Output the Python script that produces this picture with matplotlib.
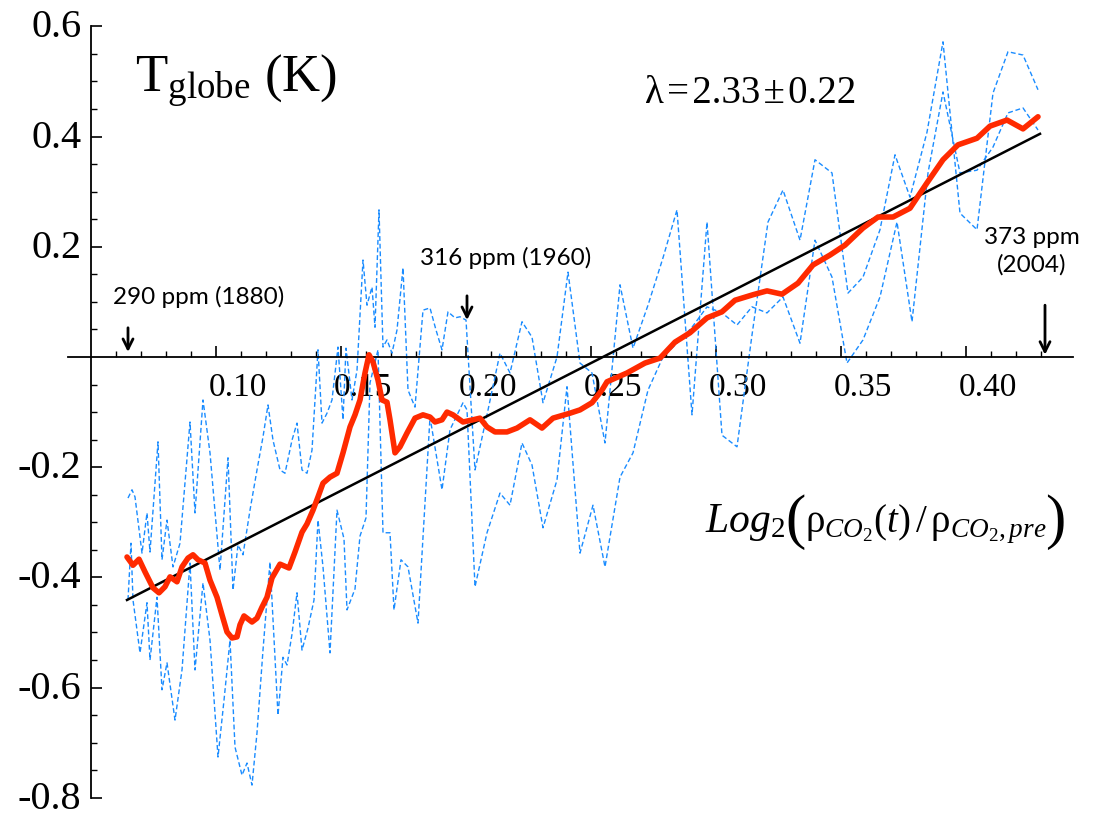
import matplotlib
matplotlib.use('Agg')
import matplotlib.pyplot as plt
from matplotlib.transforms import ScaledTranslation

plt.rcParams['mathtext.fontset'] = 'custom'
plt.rcParams['mathtext.rm'] = 'Liberation Serif'
plt.rcParams['mathtext.it'] = 'Liberation Serif:italic'
plt.rcParams['mathtext.bf'] = 'Liberation Serif:bold'

# ---------------- data ----------------
red_x = [0.0644, 0.0668, 0.0692, 0.0716, 0.0748, 0.0772, 0.0796, 0.0816, 0.0844, 0.0864,
         0.0888, 0.0908, 0.0928, 0.0956, 0.0976, 0.1004, 0.1024, 0.1044, 0.1064, 0.1084,
         0.1096, 0.1112, 0.1144, 0.1164, 0.1184, 0.1204, 0.1224, 0.1256, 0.1292, 0.1316,
         0.1344, 0.1364, 0.1388, 0.1408, 0.1428, 0.1456, 0.1484, 0.1508, 0.1536, 0.1556,
         0.1576, 0.1596, 0.1612, 0.1628, 0.1648, 0.1664, 0.1684, 0.1696, 0.1716, 0.1736,
         0.1764, 0.1796, 0.1828, 0.1856, 0.1876, 0.1904, 0.1924, 0.1948, 0.1988, 0.2028,
         0.2056, 0.2084, 0.2116, 0.2164, 0.2204, 0.2256, 0.2304, 0.2348, 0.2416, 0.2456,
         0.2504, 0.2544, 0.2564, 0.2644, 0.2716, 0.2776, 0.2836, 0.2896, 0.2964, 0.3024,
         0.3076, 0.3148, 0.3204, 0.3264, 0.3328, 0.3388, 0.3456, 0.3516, 0.3588, 0.3648,
         0.3708, 0.3776, 0.3844, 0.3908, 0.3968, 0.4044, 0.4096, 0.4164, 0.4228, 0.4288]
red_y = [-0.363, -0.378, -0.367, -0.390, -0.419, -0.428, -0.417, -0.399, -0.408, -0.381,
         -0.365, -0.359, -0.368, -0.374, -0.405, -0.436, -0.468, -0.499, -0.510, -0.508,
         -0.486, -0.470, -0.481, -0.474, -0.454, -0.436, -0.401, -0.376, -0.383, -0.354,
         -0.318, -0.303, -0.278, -0.254, -0.229, -0.218, -0.211, -0.174, -0.127, -0.105,
         -0.078, -0.029, 0.004, -0.009, -0.042, -0.078, -0.082, -0.114, -0.174, -0.163,
         -0.138, -0.111, -0.105, -0.109, -0.118, -0.114, -0.100, -0.105, -0.118, -0.114,
         -0.111, -0.127, -0.136, -0.136, -0.129, -0.114, -0.129, -0.111, -0.102, -0.096,
         -0.083, -0.060, -0.045, -0.029, -0.011, -0.002, 0.027, 0.044, 0.071, 0.082,
         0.103, 0.113, 0.120, 0.114, 0.134, 0.167, 0.185, 0.203, 0.234, 0.254,
         0.254, 0.270, 0.316, 0.358, 0.385, 0.397, 0.419, 0.430, 0.414, 0.436]

blue1_x = [0.0648, 0.0664, 0.0676, 0.0704, 0.0724, 0.0736, 0.0768, 0.0784, 0.0804, 0.0828,
           0.0856, 0.0896, 0.0916, 0.0948, 0.0976, 0.1016, 0.1048, 0.1068, 0.1088, 0.1108,
           0.1136, 0.1164, 0.1188, 0.1208, 0.1228, 0.1256, 0.1276, 0.1304, 0.1324, 0.1344,
           0.1364, 0.1384, 0.1408, 0.1424, 0.1444, 0.1464, 0.1488, 0.1508, 0.1520, 0.1544,
           0.1564, 0.1588, 0.1604, 0.1624, 0.1636, 0.1652, 0.1668, 0.1684, 0.1704, 0.1724,
           0.1748, 0.1768, 0.1796, 0.1828, 0.1856, 0.1880, 0.1904, 0.1928, 0.1956, 0.1976,
           0.2000, 0.2036, 0.2084, 0.2136, 0.2176, 0.2224, 0.2264, 0.2308, 0.2364, 0.2408,
           0.2456, 0.2504, 0.2556, 0.2616, 0.2668, 0.2728, 0.2788, 0.2844, 0.2904, 0.2964,
           0.3024, 0.3084, 0.3144, 0.3208, 0.3268, 0.3336, 0.3396, 0.3464, 0.3528, 0.3588,
           0.3656, 0.3716, 0.3776, 0.3844, 0.3908, 0.3976, 0.4044, 0.4108, 0.4168, 0.4228,
           0.4288]
blue1_y = [-0.256, -0.241, -0.254, -0.356, -0.283, -0.354, -0.154, -0.368, -0.296, -0.381,
           -0.338, -0.118, -0.283, -0.078, -0.174, -0.387, -0.183, -0.423, -0.341, -0.359,
           -0.278, -0.205, -0.145, -0.087, -0.151, -0.205, -0.211, -0.151, -0.120, -0.205,
           -0.211, -0.169, 0.013, -0.120, -0.102, -0.078, 0.018, -0.114, 0.016, -0.078,
           -0.024, 0.176, 0.094, 0.127, 0.054, 0.267, 0.018, 0.031, 0.007, 0.049,
           0.162, -0.060, -0.091, 0.085, 0.089, 0.049, 0.013, 0.082, 0.071, 0.073,
           0.067, -0.205, -0.105, 0.007, -0.029, 0.064, 0.036, -0.083, 0.000, 0.154,
           -0.011, -0.029, -0.156, 0.131, 0.016, 0.094, 0.180, 0.267, -0.105, 0.245,
           -0.142, -0.163, 0.040, 0.245, 0.303, 0.212, 0.358, 0.334, 0.116, 0.145,
           0.231, 0.367, 0.290, 0.408, 0.572, 0.261, 0.231, 0.479, 0.554, 0.548,
           0.485]

blue2_x = [0.0648, 0.0660, 0.0668, 0.0696, 0.0724, 0.0736, 0.0764, 0.0784, 0.0804, 0.0836,
           0.0864, 0.0896, 0.0916, 0.0948, 0.0976, 0.1008, 0.1032, 0.1056, 0.1076, 0.1104,
           0.1124, 0.1144, 0.1164, 0.1188, 0.1216, 0.1248, 0.1268, 0.1284, 0.1304, 0.1324,
           0.1344, 0.1368, 0.1392, 0.1408, 0.1428, 0.1456, 0.1484, 0.1512, 0.1524, 0.1556,
           0.1576, 0.1600, 0.1616, 0.1648, 0.1668, 0.1696, 0.1712, 0.1740, 0.1768, 0.1808,
           0.1832, 0.1856, 0.1904, 0.1936, 0.1988, 0.2004, 0.2036, 0.2084, 0.2136, 0.2176,
           0.2224, 0.2264, 0.2308, 0.2364, 0.2404, 0.2456, 0.2508, 0.2556, 0.2616, 0.2668,
           0.2728, 0.2788, 0.2844, 0.2904, 0.2964, 0.3024, 0.3084, 0.3144, 0.3204, 0.3268,
           0.3336, 0.3396, 0.3464, 0.3524, 0.3588, 0.3656, 0.3724, 0.3784, 0.3848, 0.3908,
           0.3976, 0.4044, 0.4108, 0.4168, 0.4228, 0.4288]
blue2_y = [-0.441, -0.338, -0.441, -0.537, -0.446, -0.550, -0.436, -0.604, -0.555, -0.659,
           -0.568, -0.374, -0.568, -0.410, -0.514, -0.726, -0.623, -0.514, -0.708, -0.759,
           -0.737, -0.777, -0.682, -0.532, -0.372, -0.650, -0.545, -0.559, -0.503, -0.428,
           -0.532, -0.492, -0.441, -0.296, -0.381, -0.537, -0.278, -0.330, -0.459, -0.421,
           -0.325, -0.292, -0.047, 0.013, -0.319, -0.319, -0.459, -0.368, -0.381, -0.483,
           -0.296, -0.109, -0.241, -0.132, -0.083, -0.096, -0.417, -0.319, -0.247, -0.269,
           -0.156, -0.196, -0.310, -0.223, -0.054, -0.356, -0.269, -0.381, -0.218, -0.174,
           -0.060, 0.000, 0.025, 0.054, 0.091, 0.080, 0.058, 0.091, 0.080, 0.109,
           0.025, 0.212, 0.145, -0.011, 0.031, 0.109, 0.245, 0.064, 0.334, 0.481,
           0.334, 0.339, 0.381, 0.443, 0.452, 0.412]

fit_x = [0.0644, 0.4296]
fit_y = [-0.441, 0.405]

x_major = [0.10, 0.15, 0.20, 0.25, 0.30, 0.35, 0.40]
x_major_labels = ['0.10', '0.15', '0.20', '0.25', '0.30', '0.35', '0.40']
y_major = [-0.8, -0.6, -0.4, -0.2, 0.2, 0.4, 0.6]
y_major_labels = ['-0.8', '-0.6', '-0.4', '-0.2', '0.2', '0.4', '0.6']

annotations = [("290 ppm (1880)", 0.0648, 0.053, 0.009),
               ("316 ppm (1960)", 0.2004, 0.111, 0.067),
               ("373 ppm\n(2004)", 0.4316, 0.094, 0.004)]

# ---------------- figure ----------------
fig = plt.figure(figsize=(10.94, 8.18), dpi=100)
ax = fig.add_axes([0, 0, 1, 1])
ax.set_xlim(0.0136, 0.4512)
ax.set_ylim(-0.8367, 0.6479)
ax.patch.set_visible(False)
for s in ['top', 'right']:
    ax.spines[s].set_visible(False)
ax.spines['left'].set_position(('data', 0.05))
ax.spines['bottom'].set_position(('data', 0.0))
ax.spines['left'].set_bounds(-0.8, 0.6)
ax.spines['bottom'].set_bounds(0.0408, 0.4428)
for s in ['left', 'bottom']:
    ax.spines[s].set_linewidth(1.3)

ax.set_xticks(x_major)
ax.set_xticklabels(x_major_labels, family='Liberation Serif', fontsize=24)
ax.set_xticks([0.06, 0.07, 0.08, 0.09, 0.11, 0.12, 0.13, 0.14, 0.16, 0.17, 0.18, 0.19,
               0.21, 0.22, 0.23, 0.24, 0.26, 0.27, 0.28, 0.29, 0.31, 0.32, 0.33, 0.34,
               0.36, 0.37, 0.38, 0.39, 0.41, 0.42, 0.43], minor=True)
ax.set_yticks(y_major)
ax.set_yticklabels(y_major_labels, family='Liberation Serif', fontsize=29)
ax.set_yticks([-0.75, -0.7, -0.65, -0.55, -0.5, -0.45, -0.35, -0.3, -0.25, -0.15, -0.1, -0.05,
               0.05, 0.1, 0.15, 0.25, 0.3, 0.35, 0.45, 0.5, 0.55], minor=True)
ax.tick_params(axis='both', which='major', direction='in', length=8, width=1.2)
ax.tick_params(axis='both', which='minor', direction='in', length=4, width=1.0)
ax.tick_params(axis='x', which='major', pad=11)
ax.tick_params(axis='y', which='major', pad=7)
for lab in ax.get_xticklabels():
    lab.set_transform(lab.get_transform() + ScaledTranslation(0.22, 0, fig.dpi_scale_trans))
for lab in ax.get_yticklabels():
    lab.set_transform(lab.get_transform() + ScaledTranslation(0, 0.03, fig.dpi_scale_trans))

# ---------------- series ----------------
ax.plot(blue1_x, blue1_y, color='#1a8cff', lw=1.0, dashes=(3.5, 2), zorder=2)
ax.plot(blue2_x, blue2_y, color='#1a8cff', lw=1.0, dashes=(3.5, 2), zorder=2)
ax.plot(fit_x, fit_y, color='black', lw=1.8, zorder=3)
ax.plot(red_x, red_y, color='#ff2a00', lw=4.0, solid_joinstyle='round',
        solid_capstyle='round', zorder=4)

# ---------------- texts ----------------
ax.text(0.0676, 0.481, r'$\mathrm{T}_{\mathrm{globe}}$ (K)', fontsize=38,
        family='Liberation Serif', va='baseline', ha='left')
ax.text(0.2716, 0.461, 'λ\u200a=\u200a2.33\u200a±\u200a0.22', fontsize=28,
        family='Liberation Serif', va='baseline', ha='left')

# axis formula, built from pieces so that the parentheses can be tall
fig.canvas.draw()
rend = fig.canvas.get_renderer()
inv = ax.transData.inverted()


def after(t, gap_px=0.0):
    bb = t.get_window_extent(renderer=rend)
    return inv.transform((bb.x1 + gap_px, bb.y0))[0]


t1 = ax.text(0.2956, -0.318, r'$Log_2$', fontsize=30, va='baseline', ha='left')
t2 = ax.text(after(t1, 0), -0.327, '(', fontsize=44, family='Liberation Serif',
             va='baseline', ha='left')
t3 = ax.text(after(t2, 0), -0.318,
             r'$\mathrm{\rho}_{CO_2}(t)\,/\,\mathrm{\rho}_{CO_2,pre}$',
             fontsize=28, va='baseline', ha='left')
t4 = ax.text(after(t3, -2), -0.327, ')', fontsize=44, family='Liberation Serif',
             va='baseline', ha='left')

ax.text(0.0588, 0.109, annotations[0][0], fontsize=17.5, family='Lato', va='center', ha='left')
ax.text(0.1816, 0.180, annotations[1][0], fontsize=17.5, family='Lato', va='center', ha='left')
ax.text(0.4264, 0.191, annotations[2][0], fontsize=17.5, family='Lato', va='center',
        ha='center', multialignment='center', linespacing=1.35)

for _, xa, y0, y1 in annotations:
    ax.annotate('', xy=(xa, y1), xytext=(xa, y0),
                arrowprops=dict(arrowstyle='->', lw=2.0, color='black',
                                mutation_scale=18, shrinkA=0, shrinkB=0))

fig.savefig('out.png', dpi=100)
